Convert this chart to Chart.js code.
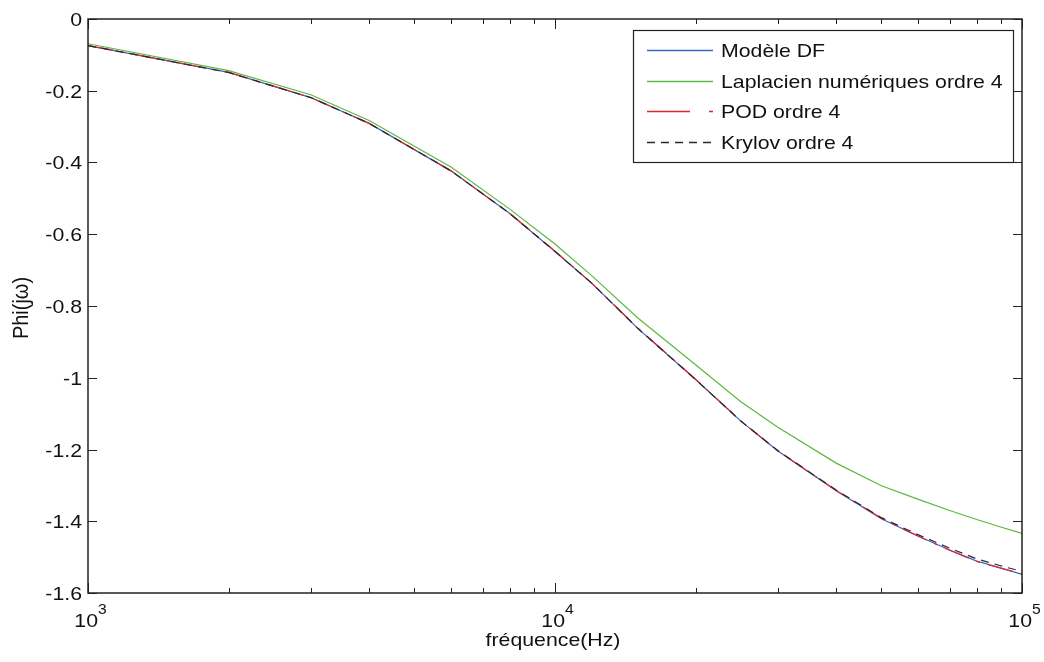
<!DOCTYPE html>
<html>
<head>
<meta charset="utf-8">
<script src="https://cdn.jsdelivr.net/npm/chart.js@4.4.1/dist/chart.umd.min.js"></script>
<style>
  body { margin: 0; background: #fff; }
  canvas { display: block; }
</style>
</head>
<body>
<canvas id="phaseChart" width="1044" height="662"></canvas>
<script>
// Frequencies (Hz) and phase values
const freqHz = [1000, 2000, 3000, 4000, 6000, 8000, 10000, 12000, 15000, 20000, 25000,
                30000, 40000, 50000, 60000, 70000, 80000, 90000, 100000];
const modeleDF = [-0.074, -0.149, -0.219, -0.291, -0.424, -0.542, -0.648, -0.737, -0.861, -1.005, -1.121,
                  -1.204, -1.315, -1.393, -1.442, -1.480, -1.511, -1.530, -1.548];
const laplacien = [-0.069, -0.144, -0.211, -0.283, -0.413, -0.530, -0.627, -0.716, -0.832, -0.964, -1.067,
                   -1.138, -1.238, -1.301, -1.339, -1.370, -1.395, -1.416, -1.434];
const pod = [-0.074, -0.149, -0.219, -0.291, -0.424, -0.542, -0.647, -0.737, -0.860, -1.004, -1.120,
             -1.204, -1.314, -1.392, -1.442, -1.481, -1.512, -1.531, -1.546];
const krylov = [-0.074, -0.149, -0.219, -0.291, -0.424, -0.542, -0.648, -0.737, -0.861, -1.005, -1.121,
                -1.203, -1.313, -1.390, -1.438, -1.475, -1.505, -1.524, -1.540];

const yTicks = [0, -0.2, -0.4, -0.6, -0.8, -1, -1.2, -1.4, -1.6];
const xDecades = [3, 4, 5];
const seriesLabels = ['Modèle DF', 'Laplacien numériques ordre 4', 'POD ordre 4', 'Krylov ordre 4'];

const FONT_FAMILY = '"Liberation Sans", Arial, Helvetica, sans-serif';
const STRETCH = 1.12; // the exported figure is wider than tall, text included

function toPoints(values) {
    return freqHz.map((f, i) => ({ x: f, y: values[i] }));
}

// draw text horizontally stretched like the reference
function wideText(ctx, text, x, y, align) {
    const w = ctx.measureText(text).width * STRETCH;
    let x0 = x;
    if (align === 'right') x0 = x - w;
    if (align === 'center') x0 = x - w / 2;
    ctx.save();
    ctx.translate(x0, y);
    ctx.scale(STRETCH, 1);
    ctx.textAlign = 'left';
    ctx.fillText(text, 0, 0);
    ctx.restore();
    return w;
}

function seg(ctx, x1, y1, x2, y2) {
    ctx.beginPath();
    ctx.moveTo(x1, y1);
    ctx.lineTo(x2, y2);
    ctx.stroke();
}

// MATLAB style box, inward ticks, labels and legend
const matlabAxes = {
    id: 'matlabAxes',
    afterDraw(chart) {
        const ctx = chart.ctx;
        const { left, right, top, bottom } = chart.chartArea;
        const xs = chart.scales.x;
        const ys = chart.scales.y;

        ctx.save();
        ctx.strokeStyle = '#222';
        ctx.fillStyle = '#111';

        // y ticks on both sides
        ctx.lineWidth = 1;
        ctx.font = '19px ' + FONT_FAMILY;
        ctx.textBaseline = 'middle';
        yTicks.forEach(v => {
            const py = Math.round(ys.getPixelForValue(v)) + 0.5;
            seg(ctx, left, py, left + 9, py);
            seg(ctx, right, py, right - 9, py);
            wideText(ctx, String(v), left - 6, py + 1, 'right');
        });

        // x ticks, major and minor, on bottom and top
        xDecades.forEach((d, i) => {
            const px = Math.round(xs.getPixelForValue(Math.pow(10, d))) + 0.5;
            seg(ctx, px, bottom, px, bottom - 10);
            seg(ctx, px, top, px, top + 10);
            if (i < xDecades.length - 1) {
                for (let m = 2; m <= 9; m++) {
                    const mx = Math.round(xs.getPixelForValue(m * Math.pow(10, d))) + 0.5;
                    seg(ctx, mx, bottom, mx, bottom - 5);
                    seg(ctx, mx, top, mx, top + 5);
                }
            }
            // label 10^d
            ctx.textBaseline = 'alphabetic';
            ctx.font = '19px ' + FONT_FAMILY;
            const baseW = ctx.measureText('10').width * STRETCH;
            ctx.font = '14px ' + FONT_FAMILY;
            const supW = ctx.measureText(String(d)).width * STRETCH;
            const x0 = px + 2 - (baseW + supW) / 2;
            ctx.font = '19px ' + FONT_FAMILY;
            wideText(ctx, '10', x0, 627, 'left');
            ctx.font = '14px ' + FONT_FAMILY;
            wideText(ctx, String(d), x0 + baseW, 614, 'left');
        });

        // box
        ctx.lineWidth = 1.5;
        ctx.strokeRect(left, top, right - left, bottom - top);

        // axis titles
        ctx.font = '19px ' + FONT_FAMILY;
        ctx.textBaseline = 'middle';
        wideText(ctx, 'fréquence(Hz)', 553, 641, 'center');
        ctx.save();
        ctx.translate(22, 308);
        ctx.rotate(-Math.PI / 2);
        ctx.scale(1.05, STRETCH);
        ctx.textAlign = 'center';
        ctx.fillText('Phi(jω)', 0, 0);
        ctx.restore();

        // legend box
        const box = { x: 633.5, y: 30.5, w: 380, h: 132 };
        ctx.fillStyle = '#fff';
        ctx.fillRect(box.x, box.y, box.w, box.h);
        ctx.strokeStyle = '#222';
        ctx.lineWidth = 1.2;
        ctx.strokeRect(box.x, box.y, box.w, box.h);

        const rowY = [50.5, 81.5, 111.5, 142.5];
        const legendDash = [[], [], [43, 19, 5, 99], [8, 6]];
        chart.data.datasets.forEach((ds, i) => {
            ctx.strokeStyle = ds.borderColor;
            ctx.lineWidth = 1.4;
            ctx.setLineDash(legendDash[i]);
            seg(ctx, 647, rowY[i], 713, rowY[i]);
            ctx.setLineDash([]);
            ctx.fillStyle = '#111';
            ctx.font = '19px ' + FONT_FAMILY;
            ctx.textBaseline = 'middle';
            wideText(ctx, ds.label, 721, rowY[i] + 1, 'left');
        });

        ctx.restore();
    }
};

function createPhaseChart() {
    const ctx = document.getElementById('phaseChart').getContext('2d');
    const lineBase = { showLine: true, pointRadius: 0, borderWidth: 1.2, fill: false, tension: 0 };

    new Chart(ctx, {
        type: 'scatter',
        data: {
            datasets: [
                { ...lineBase, label: seriesLabels[0], data: toPoints(modeleDF), borderColor: '#3f63c0', order: 3 },
                { ...lineBase, label: seriesLabels[1], data: toPoints(laplacien), borderColor: '#5cb83f', order: 2 },
                { ...lineBase, label: seriesLabels[2], data: toPoints(pod), borderColor: '#e3222e', borderDash: [26, 8, 4, 8], order: 1 },
                { ...lineBase, label: seriesLabels[3], data: toPoints(krylov), borderColor: '#2a2a2a', borderDash: [8, 6], order: 0 }
            ]
        },
        options: {
            responsive: false,
            animation: false,
            layout: { padding: { top: 19, right: 22, left: 0, bottom: 0 } },
            plugins: {
                legend: { display: false },
                tooltip: { enabled: false }
            },
            scales: {
                x: {
                    type: 'logarithmic',
                    min: 1000,
                    max: 100000,
                    grid: { display: false },
                    border: { display: false },
                    ticks: { display: false },
                    afterFit: scale => { scale.height = 69; }
                },
                y: {
                    min: -1.6,
                    max: 0,
                    grid: { display: false },
                    border: { display: false },
                    ticks: { display: false, stepSize: 0.2 },
                    afterFit: scale => { scale.width = 88; }
                }
            }
        },
        plugins: [matlabAxes]
    });
}

document.addEventListener('DOMContentLoaded', createPhaseChart);
</script>
</body>
</html>
